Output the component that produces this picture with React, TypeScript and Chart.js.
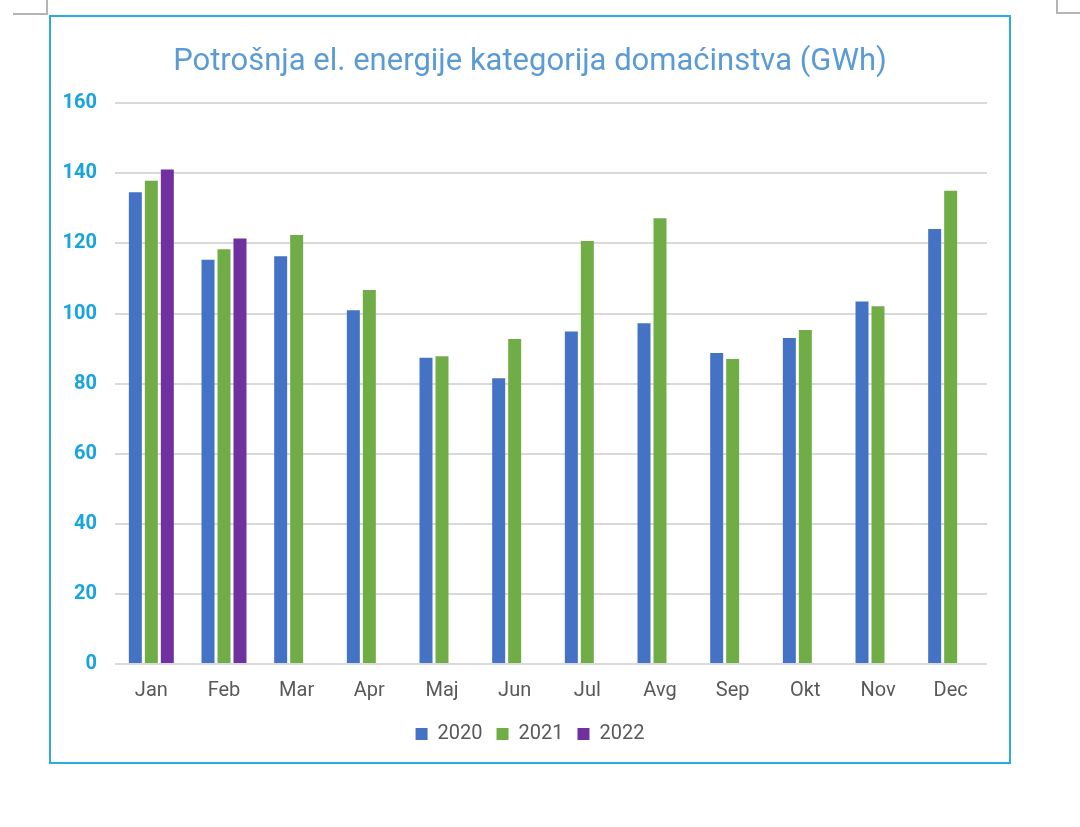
import React, { useEffect, useRef } from "react";
import { Chart, registerables } from "chart.js";

Chart.register(...registerables);

const TITLE = "Potrošnja el. energije kategorija domaćinstva (GWh)";
const MONTHS = ["Jan", "Feb", "Mar", "Apr", "Maj", "Jun", "Jul", "Avg", "Sep", "Okt", "Nov", "Dec"];
const SERIES_LABELS = ["2020", "2021", "2022"];
const VALUES_2020 = [134.6, 115.3, 116.3, 100.9, 87.4, 81.5, 94.9, 97.2, 88.7, 93.0, 103.4, 124.1];
const VALUES_2021 = [137.9, 118.3, 122.4, 106.7, 87.8, 92.7, 120.7, 127.2, 87.0, 95.3, 102.1, 135.0];
const VALUES_2022 = [141.1, 121.4, null, null, null, null, null, null, null, null, null, null];
const COLORS = ["#4472c4", "#70ad47", "#7030a0"];
const Y_MIN = 0;
const Y_MAX = 160;
const Y_STEP = 20;

export default function App() {
  const canvasRef = useRef<HTMLCanvasElement | null>(null);

  useEffect(() => {
    if (!canvasRef.current) return;
    const seriesValues = [VALUES_2020, VALUES_2021, VALUES_2022];
    const chart = new Chart(canvasRef.current, {
      type: "bar",
      data: {
        labels: MONTHS,
        datasets: SERIES_LABELS.map((label, i) => ({
          label,
          data: seriesValues[i],
          backgroundColor: COLORS[i],
          borderWidth: 0,
          categoryPercentage: 0.66,
          barPercentage: 0.8125,
        })),
      },
      options: {
        animation: false,
        responsive: false,
        maintainAspectRatio: false,
        layout: { padding: { top: 27, left: 0, right: 0, bottom: 8 } },
        plugins: {
          title: {
            display: true,
            text: TITLE,
            color: "#5b9bd5",
            font: { family: "Roboto", size: 31, weight: "normal" },
            padding: { top: 0, bottom: 22 },
          },
          legend: {
            position: "bottom",
            labels: {
              color: "#595959",
              font: { family: "Roboto", size: 20 },
              boxWidth: 12,
              boxHeight: 12,
              padding: 14,
            },
          },
          tooltip: { enabled: false },
        },
        scales: {
          x: {
            grid: { display: false, drawTicks: false },
            border: { display: false },
            ticks: {
              color: "#595959",
              font: { family: "Roboto", size: 20 },
              padding: 15,
            },
            afterFit: (scale: any) => {
              scale.height = 46;
            },
          },
          y: {
            min: Y_MIN,
            max: Y_MAX,
            grid: { color: "#d9d9d9", lineWidth: 2, drawTicks: false },
            border: { display: false },
            ticks: {
              stepSize: Y_STEP,
              color: "#18a4df",
              font: { family: "Roboto", size: 20, weight: "bold" },
              padding: 18,
            },
            afterFit: (scale: any) => {
              scale.width = 64;
            },
          },
          spacer: {
            type: "linear",
            position: "right",
            display: true,
            grid: { display: false, drawTicks: false },
            border: { display: false },
            ticks: { display: false },
            afterFit: (scale: any) => {
              scale.width = 22;
            },
          },
        },
      },
    });
    return () => chart.destroy();
  }, []);

  return (
    <div style={{ position: "absolute", left: 0, top: 0, width: 1080, height: 827, background: "#ffffff" }}>
      <div style={{ position: "absolute", left: 13, top: 13, width: 35, height: 2, background: "#b5b5b5" }} />
      <div style={{ position: "absolute", left: 46, top: 0, width: 2, height: 15, background: "#b5b5b5" }} />
      <div style={{ position: "absolute", left: 1056, top: 0, width: 2, height: 14, background: "#b5b5b5" }} />
      <div style={{ position: "absolute", left: 1056, top: 12, width: 24, height: 2, background: "#b5b5b5" }} />
      <div
        style={{
          position: "absolute",
          left: 49,
          top: 15,
          width: 958,
          height: 745,
          border: "2px solid #29abe2",
        }}
      >
        <canvas ref={canvasRef} width={958} height={745} style={{ display: "block" }} />
      </div>
    </div>
  );
}
